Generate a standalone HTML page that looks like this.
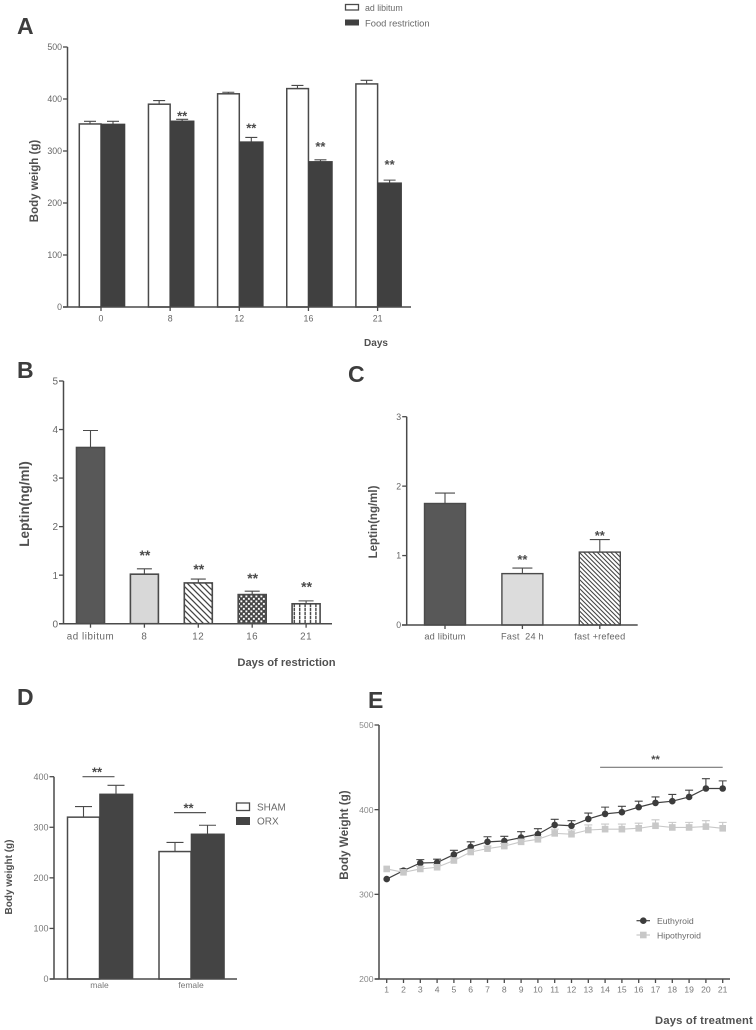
<!DOCTYPE html>
<html lang="en">
<head>
<meta charset="utf-8">
<title>Body weight and leptin charts</title>
<style>
html,body{margin:0;padding:0;background:#fff;}
svg{display:block;filter:blur(0.35px);font-family:"Liberation Sans",Arial,sans-serif;}
.letter{font-size:23px;font-weight:bold;fill:#3d3d3d;}
.title{font-weight:bold;fill:#505050;}
.legend{fill:#6a6a6a;}
</style>
</head>
<body>
<svg id="figure" width="756" height="1030" viewBox="0 0 756 1030" xmlns="http://www.w3.org/2000/svg">
<defs>
<pattern id="hatch-b" patternUnits="userSpaceOnUse" width="6" height="6"><rect width="6" height="6" fill="#fff"/><path d="M-1,-1 L7,7 M-1,5 L1,7 M5,-1 L7,1" stroke="#444" stroke-width="1.3"/></pattern>
<pattern id="hatch-c" patternUnits="userSpaceOnUse" width="4.5" height="4.5"><rect width="4.5" height="4.5" fill="#fff"/><path d="M-1,-1 L5.5,5.5 M-1,3.5 L1,5.5 M3.5,-1 L5.5,1" stroke="#444" stroke-width="1.1"/></pattern>
<pattern id="checker" patternUnits="userSpaceOnUse" width="5" height="5"><rect width="5" height="5" fill="#444"/><rect x="0.4" y="0.4" width="1.9" height="1.9" fill="#fff"/><rect x="2.9" y="2.9" width="1.9" height="1.9" fill="#fff"/></pattern>
<pattern id="vertical-dash" patternUnits="userSpaceOnUse" width="5.4" height="4"><rect width="5.4" height="4" fill="#fff"/><path d="M2.7,0 V3.3" stroke="#444" stroke-width="1.4"/></pattern>
</defs>

<g id="panel-a">
<text class="letter" x="17" y="34">A</text>
<text class="title" font-size="11.5" text-anchor="middle" transform="translate(38,181) rotate(-90)">Body weigh (g)</text>
<text class="title" font-size="10" text-anchor="middle" x="376" y="346">Days</text>
<g>
<rect x="345.5" y="4.5" width="13" height="5.5" fill="#fff" stroke="#4a4a4a" stroke-width="1.3"/>
<text class="legend" x="365" y="11" font-size="8.8">ad libitum</text>
<rect x="345" y="19.5" width="14" height="6" fill="#404040"/>
<text class="legend" x="365" y="26.5" font-size="9.4">Food restriction</text>
</g>
</g>

<g id="panel-b">
<text class="letter" x="17" y="378">B</text>
<text class="title" font-size="13.5" text-anchor="middle" transform="translate(29,504) rotate(-90)">Leptin(ng/ml)</text>
<text class="title" font-size="11.2" text-anchor="middle" x="286.5" y="666">Days of restriction</text>
</g>

<g id="panel-c">
<text class="letter" x="348" y="382">C</text>
<text class="title" font-size="11.5" text-anchor="middle" transform="translate(377,522) rotate(-90)">Leptin(ng/ml)</text>
</g>

<g id="panel-d">
<text class="letter" x="17" y="705">D</text>
<text class="title" font-size="10" text-anchor="middle" transform="translate(12,877) rotate(-90)">Body weight (g)</text>
<g>
<rect x="236.5" y="803" width="13" height="7.5" fill="#fff" stroke="#4a4a4a" stroke-width="1.3"/>
<text class="legend" x="257" y="810.5" font-size="10">SHAM</text>
<rect x="236" y="817" width="14" height="8" fill="#444"/>
<text class="legend" x="257" y="824.5" font-size="10">ORX</text>
</g>
</g>

<g id="panel-e">
<text class="letter" x="368" y="708">E</text>
<text class="title" font-size="11.7" text-anchor="middle" transform="translate(348,835) rotate(-90)">Body Weight (g)</text>
<text class="title" font-size="11.2" text-anchor="middle" x="704" y="1024" letter-spacing="0.2">Days of treatment</text>
<g>
<line x1="636.5" x2="650" y1="920.7" y2="920.7" stroke="#404040" stroke-width="1.2"/>
<circle cx="643.3" cy="920.7" r="3.3" fill="#3c3c3c"/>
<text class="legend" x="657" y="924" font-size="8.7" fill="#777">Euthyroid</text>
<line x1="636.5" x2="650" y1="935" y2="935" stroke="#c8c8c8" stroke-width="1.2"/>
<rect x="640" y="931.7" width="6.6" height="6.6" fill="#c8c8c8"/>
<text class="legend" x="657" y="938.3" font-size="8.7" fill="#777">Hipothyroid</text>
</g>
</g>
</svg>

<script>
// Panel A data
const aCategories = ['0', '8', '12', '16', '21'];
const aTicks = [0, 100, 200, 300, 400, 500];
const aAdLibitum = [352, 390, 410, 420, 429];
const aAdLibitumErr = [5, 7, 3, 6, 7];
const aRestriction = [352, 358, 318, 280, 239];
const aRestrictionErr = [5, 3, 8, 3, 5];
const aStarLevels = [null, 370, 347, 311, 276];

// Panel B data
const bCategories = ['ad libitum', '8', '12', '16', '21'];
const bTicks = [0, 1, 2, 3, 4, 5];
const bValues = [3.63, 1.02, 0.84, 0.6, 0.41];
const bErrors = [0.35, 0.11, 0.08, 0.07, 0.06];
const bStarLevels = [null, 1.44, 1.15, 0.97, 0.79];

// Panel C data
const cCategories = ['ad libitum', 'Fast  24 h', 'fast +refeed'];
const cTicks = [0, 1, 2, 3];
const cValues = [1.75, 0.74, 1.05];
const cErrors = [0.15, 0.08, 0.18];
const cStarLevels = [null, 0.96, 1.31];

// Panel D data
const dCategories = ['male', 'female'];
const dTicks = [0, 100, 200, 300, 400];
const dSham = [320, 252];
const dShamErr = [21, 18];
const dOrx = [366, 287];
const dOrxErr = [17, 17];
const dSigLevels = [400, 329];
const dStarLevels = [412, 341];

// Panel E data
const eDays = ['1','2','3','4','5','6','7','8','9','10','11','12','13','14','15','16','17','18','19','20','21'];
const eTicks = [200, 300, 400, 500];
const eEuthyroid = [318,328,337,337.5,347,356,362,363,367,371,382,381,389,395,397,403,408,410,415,425,425];
const eEuthyroidErr = [0,2,4,4,5,6,6,5.5,7,6.5,6.6,6,7,8,7,7,7,8,8,11.6,9];
const eHipothyroid = [330,326,330,332,340,350,354,357,362,365,372,371,376,377,377,378,381,379,379,380,378];
const eHipothyroidErr = [0,2,3,3,3,3,3,3,3,3,5,5,6,6,6,6,7,6,6,7,7];
const eSigLevel = 450;
const eStarLevel = 461;

const SVGNS = 'http://www.w3.org/2000/svg';
const AXIS = '#4a4a4a';

function mk(tag, attrs, parent) {
  const el = document.createElementNS(SVGNS, tag);
  for (const k in attrs) el.setAttribute(k, attrs[k]);
  
  parent.appendChild(el);
  return el;
}
function linear(d0, d1, r0, r1) {
  return function (v) { return r0 + (v - d0) / (d1 - d0) * (r1 - r0); };
}
function drawYAxis(parent, ticks, y, x, fontSize, color) {
  const axis = mk('line', {x1: x, x2: x, y1: y(ticks[0]), y2: y(ticks[ticks.length - 1]), stroke: AXIS, 'stroke-width': 1.5}, parent);
  
  ticks.forEach(function (t) {
    const tick = mk('line', {x1: x - 4.5, x2: x, y1: y(t), y2: y(t), stroke: AXIS, 'stroke-width': 1.3}, parent);
    
    const label = mk('text', {x: x - 5.5, y: y(t) + fontSize * 0.36, 'font-size': fontSize, 'text-anchor': 'end', fill: color}, parent);
    
    label.textContent = t;
  });
}
function drawXAxis(parent, categories, x, y0, x0, x1, labelY, fontSize, color, tickLen, spacing) {
  const axis = mk('line', {x1: x0, x2: x1, y1: y0, y2: y0, stroke: AXIS, 'stroke-width': 1.5}, parent);
  
  categories.forEach(function (c, i) {
    if (tickLen > 0) {
      const tick = mk('line', {x1: x(i), x2: x(i), y1: y0, y2: y0 + tickLen, stroke: AXIS, 'stroke-width': 1.3}, parent);
      
    }
    const label = mk('text', {x: x(i), y: labelY, 'font-size': fontSize, 'text-anchor': 'middle', fill: color, 'letter-spacing': spacing, style: 'white-space:pre'}, parent);
    
    label.textContent = c;
  });
}
function drawBar(parent, left, width, top, bottom, fill, stroke, strokeWidth) {
  return mk('rect', {x: left, y: top, width: width, height: bottom - top, fill: fill, stroke: stroke, 'stroke-width': strokeWidth}, parent);
}
function drawError(parent, cx, from, to, capWidth, color, sw) {
  const path = 'M' + cx + ',' + from + ' V' + to + ' M' + (cx - capWidth / 2) + ',' + to + ' H' + (cx + capWidth / 2);
  return mk('path', {d: path, fill: 'none', stroke: color, 'stroke-width': sw}, parent);
}
function drawStars(parent, cx, cy, size) {
  const t = mk('text', {x: cx, y: cy + size * 0.44, 'font-size': size, 'font-weight': 'bold', 'text-anchor': 'middle', fill: '#4a4a4a'}, parent);
  t.textContent = '**';
  return t;
}

// ---- Panel A
(function () {
  const g = document.getElementById('panel-a');
  const y = linear(0, 500, 307, 47);
  const x = function (i) { return 101 + i * 69.15; };
  aCategories.forEach(function (c, i) {
    const e1 = drawError(g, x(i) - 11, y(aAdLibitum[i]), y(aAdLibitum[i] + aAdLibitumErr[i]), 12, AXIS, 1.1);
    
    const e2 = drawError(g, x(i) + 12, y(aRestriction[i]), y(aRestriction[i] + aRestrictionErr[i]), 12, AXIS, 1.1);
    
    const b1 = drawBar(g, x(i) - 21.7, 21.7, y(aAdLibitum[i]), y(0), '#fff', AXIS, 1.5);
    
    const b2 = drawBar(g, x(i), 24, y(aRestriction[i]), y(0), '#404040', '#404040', 0.6);
    
    if (aStarLevels[i] !== null) {
      const s = drawStars(g, x(i) + 12, y(aStarLevels[i]), 13);
      
    }
  });
  drawYAxis(g, aTicks, y, 67.5, 8.8, '#666');
  drawXAxis(g, aCategories, x, 307, 63, 411, 321.5, 8.8, '#666', 4, 0);
})();

// ---- Panel B
(function () {
  const g = document.getElementById('panel-b');
  const y = linear(0, 5, 623.7, 381);
  const x = function (i) { return 90.5 + i * 53.9; };
  const fills = ['#585858', '#d8d8d8', 'url(#hatch-b)', 'url(#checker)', 'url(#vertical-dash)'];
  bCategories.forEach(function (c, i) {
    const e = drawError(g, x(i), y(bValues[i]), y(bValues[i] + bErrors[i]), 15, AXIS, 1.1);
    
    const b = drawBar(g, x(i) - 14, 28, y(bValues[i]), y(0), fills[i], AXIS, 1.6);
    
    if (bStarLevels[i] !== null) {
      const s = drawStars(g, x(i) + 0.5, y(bStarLevels[i]), 14);
      
    }
  });
  drawYAxis(g, bTicks, y, 63.5, 10, '#666');
  drawXAxis(g, bCategories, x, 623.7, 59, 332, 639.5, 9.8, '#666', 4, 0.55);
})();

// ---- Panel C
(function () {
  const g = document.getElementById('panel-c');
  const y = linear(0, 3, 625, 416.7);
  const x = function (i) { return 445 + i * 77.4; };
  const fills = ['#585858', '#dcdcdc', 'url(#hatch-c)'];
  cCategories.forEach(function (c, i) {
    const e = drawError(g, x(i), y(cValues[i]), y(cValues[i] + cErrors[i]), 20, AXIS, 1.1);
    
    const b = drawBar(g, x(i) - 20.5, 41, y(cValues[i]), y(0), fills[i], AXIS, 1.4);
    
    if (cStarLevels[i] !== null) {
      const s = drawStars(g, x(i), y(cStarLevels[i]), 13);
      
    }
  });
  drawYAxis(g, cTicks, y, 406.7, 8.8, '#666');
  drawXAxis(g, cCategories, x, 625, 402, 637.7, 639.5, 9.2, '#666', 4, 0.2);
})();

// ---- Panel D
(function () {
  const g = document.getElementById('panel-d');
  const y = linear(0, 400, 979, 776.7);
  const x = function (i) { return 99.5 + i * 91.5; };
  dCategories.forEach(function (c, i) {
    const e1 = drawError(g, x(i) - 16, y(dSham[i]), y(dSham[i] + dShamErr[i]), 17, AXIS, 1.1);
    
    const e2 = drawError(g, x(i) + 16.5, y(dOrx[i]), y(dOrx[i] + dOrxErr[i]), 17, AXIS, 1.1);
    
    const b1 = drawBar(g, x(i) - 32, 32, y(dSham[i]), y(0), '#fff', AXIS, 1.5);
    
    const b2 = drawBar(g, x(i), 33.5, y(dOrx[i]), y(0), '#444', '#444', 0.6);
    
    const line = mk('line', {x1: x(i) - 17, x2: x(i) + 15, y1: y(dSigLevels[i]), y2: y(dSigLevels[i]), stroke: '#555', 'stroke-width': 1.2}, g);
    
    const s = drawStars(g, x(i) - 2.5, y(dStarLevels[i]), 13);
    
  });
  drawYAxis(g, dTicks, y, 54, 9, '#777');
  drawXAxis(g, dCategories, x, 979, 50, 237, 988, 8.5, '#777', 0, 0);
})();

// ---- Panel E
(function () {
  const g = document.getElementById('panel-e');
  const y = linear(200, 500, 979, 725);
  const x = function (i) { return 386.7 + i * 16.8; };
  const euthPts = eEuthyroid.map(function (v, i) { return x(i) + ',' + y(v); }).join(' ');
  const hipoPts = eHipothyroid.map(function (v, i) { return x(i) + ',' + y(v); }).join(' ');

  eHipothyroid.forEach(function (v, i) {
    if (eHipothyroidErr[i] > 0) {
      const e = drawError(g, x(i), y(v), y(v + eHipothyroidErr[i]), 8, '#c8c8c8', 1.1);
      
    }
  });
  const euthLine = mk('polyline', {points: euthPts, fill: 'none', stroke: '#404040', 'stroke-width': 1.2}, g);
  
  eEuthyroid.forEach(function (v, i) {
    if (eEuthyroidErr[i] > 0) {
      const e = drawError(g, x(i), y(v), y(v + eEuthyroidErr[i]), 8, '#444', 1.1);
      
    }
    const p = mk('circle', {cx: x(i), cy: y(v), r: 3.3, fill: '#3c3c3c'}, g);
    
  });
  const hipoLine = mk('polyline', {points: hipoPts, fill: 'none', stroke: '#c8c8c8', 'stroke-width': 1.1}, g);
  
  eHipothyroid.forEach(function (v, i) {
    const p = mk('rect', {x: x(i) - 3.3, y: y(v) - 3.3, width: 6.6, height: 6.6, fill: '#c8c8c8'}, g);
    
  });
  const sig = mk('line', {x1: x(13) - 5, x2: x(20), y1: y(eSigLevel), y2: y(eSigLevel), stroke: '#777', 'stroke-width': 1.1}, g);
  
  const s = drawStars(g, 655.5, y(eStarLevel), 11);
  
  drawYAxis(g, eTicks, y, 379, 8.6, '#888');
  drawXAxis(g, eDays, x, 979, 375, 730, 992.5, 8.6, '#777', 4, 0);
})();
</script>
</body>
</html>
